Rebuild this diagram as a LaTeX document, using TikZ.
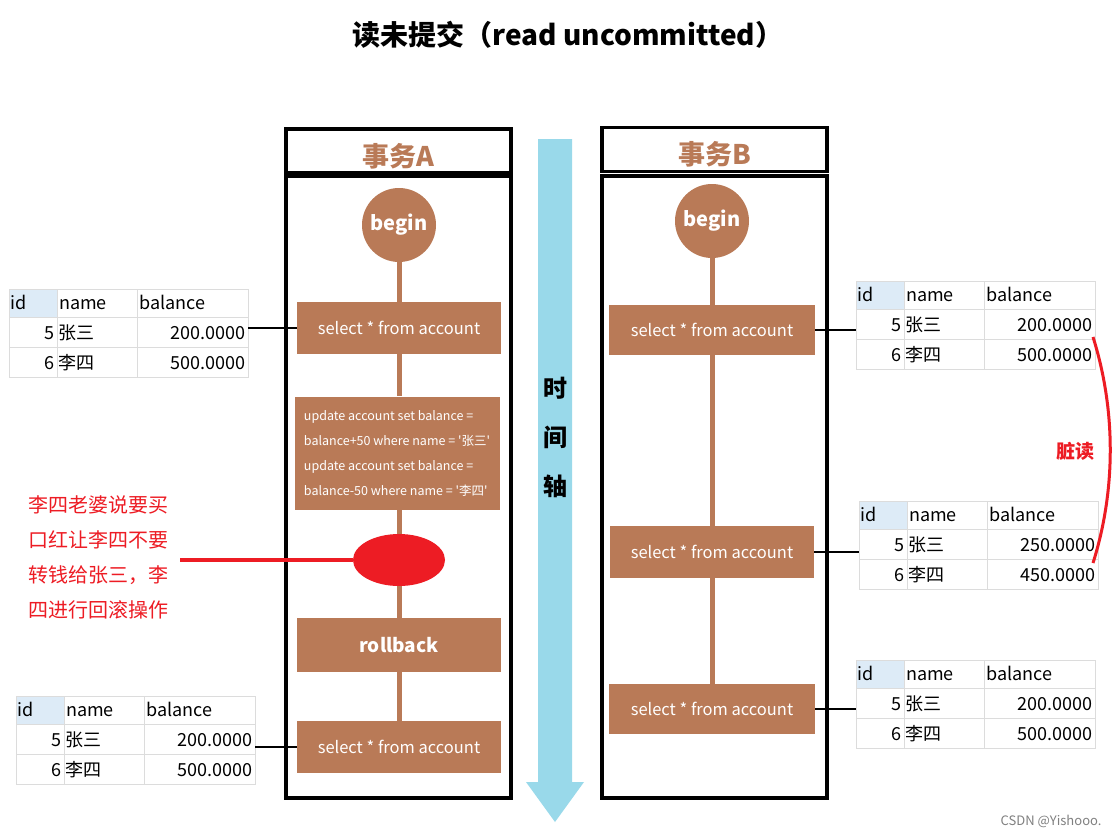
\documentclass[tikz,border=0pt]{standalone}
\usepackage{fontspec}
\setmainfont{Noto Sans CJK SC}
\newfontfamily\sqlfont{Noto Sans CJK SC}[Ligatures=TeXOff]
\usetikzlibrary{shapes.geometric}

\definecolor{txbrown}{HTML}{B97A57}
\definecolor{txred}{HTML}{ED1C24}
\definecolor{axisblue}{HTML}{99D9EA}
\definecolor{idblue}{HTML}{DDEBF7}
\definecolor{gridgray}{HTML}{DCDCDC}

% account table: name, x, y (top left), balance of 5, balance of 6
\newcommand\AccTable[5]{%
  \begin{scope}[shift={(#2,#3)}]
    \fill[idblue] (0,0) rectangle (48,28);
    \node[tbl] (#1) at (119.5,44) {};
    \draw[gridgray] (0,28) -- (239,28) (0,58) -- (239,58)
                    (48,0) -- (48,88) (128,0) -- (128,88);
    \node[cell,anchor=base west] (#1-hid) at (1,20) {id};
    \node[cell,anchor=base west] (#1-hname) at (50,20) {name};
    \node[cell,anchor=base west] (#1-hbal) at (130,20) {balance};
    \node[cell,anchor=base east] (#1-id5) at (46,50) {5};
    \node[cell,anchor=base west] (#1-n5) at (49,50) {张三};
    \node[cell,anchor=base east] (#1-b5) at (237,50) {#4};
    \node[cell,anchor=base east] (#1-id6) at (46,80) {6};
    \node[cell,anchor=base west] (#1-n6) at (49,80) {李四};
    \node[cell,anchor=base east] (#1-b6) at (237,80) {#5};
  \end{scope}}

\begin{document}
\begin{tikzpicture}[x=1pt,y=-1pt]
\tikzset{hdrbox/.style = {draw, line width=3.5pt, minimum width=225pt,
                          minimum height=44pt, inner sep=0pt, text=txbrown,
                          text height=30pt, text depth=0pt,
                          font=\bfseries\fontsize{27}{30}\selectfont},
         lanebox/.style = {draw, line width=3.5pt, minimum width=225pt,
                           minimum height=622pt, inner sep=0pt},
         beginnode/.style = {circle, fill=txbrown, text=white, minimum size=74pt,
                             inner sep=0pt, font=\bfseries\fontsize{20}{22}\selectfont},
         stmt/.style = {fill=txbrown, text=white, minimum width=204pt,
                        minimum height=52pt, inner sep=0pt,
                        font=\fontsize{16.5}{18}\selectfont},
         flow/.style = {txbrown, line width=5pt},
         link/.style = {line width=2.5pt},
         tbl/.style = {draw=gridgray, minimum width=239pt, minimum height=88pt, inner sep=0pt},
         cell/.style = {inner sep=0pt, font=\fontsize{18}{20}\selectfont}
  }
\path[use as bounding box, fill=white] (0,0) rectangle (1116,836);

\node[font=\bfseries\fontsize{28}{32}\selectfont] (title) at (568,35)
  {读未提交（read uncommitted）};

% time axis
\fill[axisblue] (538,139) -- (572,139) -- (572,782) -- (584,782) -- (555,822)
  -- (526,782) -- (538,782) -- cycle;
\foreach \c/\y in {时/388,间/437,轴/486}
  \node[font=\bfseries\fontsize{24}{26}\selectfont] (axis\y) at (555,\y) {\c};

%-----------------------------
% transaction A
\node[hdrbox] (hdrA) at (398.5,151) {事务A};
\node[lanebox] (laneA) at (398.5,487) {};
\node[beginnode] (beginA) at (399,225) {begin};
\node[stmt] (selA1) at (399,328) {select * from account};
\node[stmt, minimum width=205pt, minimum height=113pt, align=left,
      font=\sqlfont\fontsize{12.5}{25}\selectfont] (updA) at (397,453)
  {update account set balance =\\balance+50 where name = '张三'\\
   update account set balance =\\balance-50 where name = '李四'};
\node[ellipse, fill=txred, minimum width=92pt, minimum height=52pt,
      inner sep=0pt] (rbMark) at (399,560) {};
\node[stmt, minimum height=54pt, font=\bfseries\fontsize{19}{22}\selectfont]
  (rbA) at (399,645) {rollback};
\node[stmt] (selA2) at (399,747) {select * from account};
\draw[flow] (beginA) -- (selA1) -- (updA.north -| selA1)
  (updA.south -| rbMark) -- (rbMark) -- (rbA) -- (selA2);

%-----------------------------
% transaction B
\node[hdrbox] (hdrB) at (714.5,149.5) {事务B};
\node[lanebox] (laneB) at (714.5,487) {};
\node[beginnode] (beginB) at (712,221) {begin};
\node[stmt, minimum width=206pt, minimum height=50pt] (selB1) at (712,330) {select * from account};
\node[stmt] (selB2) at (712,552) {select * from account};
\node[stmt, minimum width=206pt, minimum height=50pt] (selB3) at (712,709) {select * from account};
\draw[flow] (beginB) -- (selB1) -- (selB2) -- (selB3);

%-----------------------------
% tables
\AccTable{tA1}{9}{289}{200.0000}{500.0000}
\AccTable{tA2}{16}{696}{200.0000}{500.0000}
\AccTable{tB1}{856}{281}{200.0000}{500.0000}
\AccTable{tB2}{859}{501}{250.0000}{450.0000}
\AccTable{tB3}{856}{660}{200.0000}{500.0000}

\draw[link] (selA1.west) -- (selA1.west -| tA1.east);
\draw[link] (selA2.west) -- (selA2.west -| tA2.east);
\draw[link] (selB1.east) -- (selB1.east -| tB1.west);
\draw[link] (selB2.east) -- (selB2.east -| tB2.west);
\draw[link] (selB3.east) -- (selB3.east -| tB3.west);

%-----------------------------
% notes
\node[text=txred, align=left, font=\fontsize{20}{35}\selectfont] (noteA) at (98,557)
  {李四老婆说要买\\口红让李四不要\\转钱给张三，李\\四进行回滚操作};
\coordinate (noteEnd) at (180,560);
\draw[txred, line width=4pt] (noteEnd) -- (rbMark);

\coordinate (dirtyTop) at (1093,337);
\coordinate (dirtyBot) at (1093,563);
\draw[txred, line width=3pt] (dirtyTop) .. controls (1116,410) and (1116,490) .. (dirtyBot);
\node[text=txred, font=\bfseries\fontsize{19}{22}\selectfont] (dirty) at (1075,451) {脏读};

\node[anchor=east, text=gray, font=\fontsize{13}{15}\selectfont] (mark) at (1105,821)
  {CSDN @Yishooo.};

\end{tikzpicture}
\end{document}
